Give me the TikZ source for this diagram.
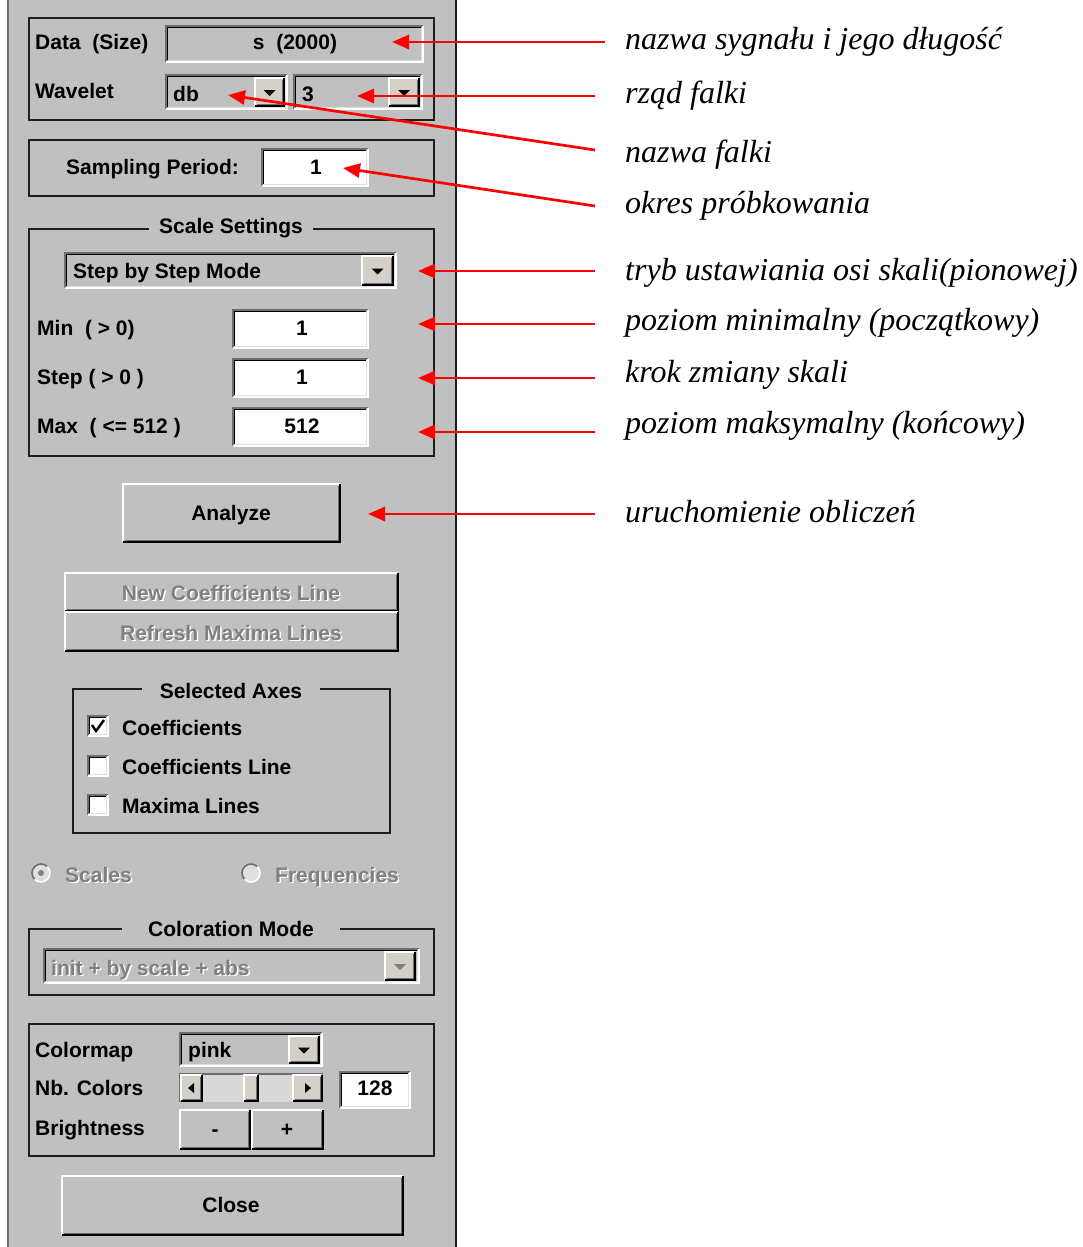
\documentclass[tikz,border=0pt]{standalone}
\usepackage{fontspec}
\newfontfamily\guifont{Liberation Sans}
\newfontfamily\notefont{Liberation Serif}
\usetikzlibrary{arrows.meta}

\definecolor{guibg}{RGB}{192,192,192}
\definecolor{guiface}{RGB}{212,208,200}
\definecolor{guidark}{RGB}{110,110,110}
\definecolor{guilight}{RGB}{223,223,223}
\definecolor{guiframe}{RGB}{30,30,30}
\definecolor{guigray}{RGB}{128,128,128}
\definecolor{guitrough}{RGB}{216,216,216}
\definecolor{notered}{RGB}{255,0,0}

\tikzset{
  guitext/.style={font=\guifont\bfseries\fontsize{21}{24}\selectfont, inner sep=0pt, text=black},
  guidim/.style={guitext, text=guigray},
  guiemboss/.style={guitext, text=white},
  frameline/.style={draw=guiframe, line width=1.8pt},
  frametitle/.style={guitext, fill=guibg, inner xsep=#1, inner ysep=3pt, anchor=base},
  note/.style={font=\notefont\itshape\fontsize{32}{38}\selectfont, inner sep=0pt, anchor=base west},
  pointer/.style={draw=notered, line width=2.7pt, -{Triangle[length=17pt,width=14pt]}},
}

% sunken 3D box: x1, y1, x2, y2, fill
\newcommand\guisunken[5]{%
  \fill[#5] (#1,#2) rectangle (#3,#4);
  \draw[guidark,line width=1.6pt] (#1,#4) -- (#1,#2) -- (#3,#2);
  \draw[white,line width=1.6pt] (#1,#4) -- (#3,#4) -- (#3,#2);
  \draw[black,line width=1.3pt] (#1+1.6,#4-1.6) -- (#1+1.6,#2+1.6) -- (#3-1.6,#2+1.6);
  \draw[guilight,line width=1.3pt] (#1+1.6,#4-1.6) -- (#3-1.6,#4-1.6) -- (#3-1.6,#2+1.6);
}
% raised 3D box: x1, y1, x2, y2, fill
\newcommand\guiraised[5]{%
  \fill[#5] (#1,#2) rectangle (#3,#4);
  \draw[white,line width=1.6pt] (#1,#4) -- (#1,#2) -- (#3,#2);
  \draw[black,line width=1.8pt] (#1,#4) -- (#3,#4) -- (#3,#2);
  \draw[guidark,line width=1.3pt] (#1+1.8,#4-1.8) -- (#3-1.8,#4-1.8) -- (#3-1.8,#2+1.8);
}
% drop-down button with its triangle: x1, y1, x2, y2, triangle colour
\newcommand\guidrop[5]{%
  \guiraised{#1}{#2}{#3}{#4}{guiface}
  \fill[#5] ({(#1+#3)/2-6},{(#2+#4)/2-2}) -- ({(#1+#3)/2+6},{(#2+#4)/2-2})
            -- ({(#1+#3)/2},{(#2+#4)/2+4}) -- cycle;
}

\begin{document}
\begin{tikzpicture}[x=1pt,y=-1pt]
\useasboundingbox (0,0) rectangle (1082,1247);
\fill[white] (0,0) rectangle (1082,1247);

% dialog panel
\fill[guibg] (8,0) rectangle (456,1247);
\draw[guidark, line width=2pt] (8,0) -- (8,1247);
\draw[guiframe, line width=2pt] (456,0) -- (456,1247);

% ---- data and wavelet group
\draw[frameline] (29,18) rectangle (434,120);
\node[guitext, anchor=base west] (datalbl) at (35,50) {Data\ \ (Size)};
\guisunken{166}{26}{423}{62}{guibg}
\node[guitext, anchor=base] (dataval) at (295,50) {s\ \ (2000)};
\node[guitext, anchor=base west] (wavlbl) at (35,99) {Wavelet};
\guisunken{166}{75}{287}{109}{guibg}
\guidrop{255}{78}{284}{106}{black}
\node[guitext, anchor=base west] (wavname) at (173,101) {db};
\guisunken{294}{75}{422}{109}{guibg}
\guidrop{389}{78}{419}{106}{black}
\node[guitext, anchor=base west] (wavorder) at (302,101) {3};

% ---- sampling period
\draw[frameline] (29,140) rectangle (434,196);
\node[guitext, anchor=base west] (samplbl) at (66,174) {Sampling Period:};
\guisunken{262}{149}{368}{186}{white}
\node[guitext, anchor=base] (sampval) at (316,174) {1};

% ---- scale settings
\draw[frameline] (29,229) rectangle (434,456);
\node[frametitle=10pt] (scaletitle) at (231,233) {Scale Settings};
\guisunken{65}{253}{396}{288}{guibg}
\guidrop{362}{256}{393}{285}{black}
\node[guitext, anchor=base west] (modeval) at (73,278) {Step by Step Mode};
\node[guitext, anchor=base west] (minlbl) at (37,335) {Min\ \ ( > 0)};
\guisunken{233}{310}{368}{348}{white}
\node[guitext, anchor=base] (minval) at (302,335) {1};
\node[guitext, anchor=base west] (steplbl) at (37,384) {Step ( > 0 )};
\guisunken{233}{359}{368}{397}{white}
\node[guitext, anchor=base] (stepval) at (302,384) {1};
\node[guitext, anchor=base west] (maxlbl) at (37,433) {Max\ \ ( <= 512 )};
\guisunken{233}{408}{368}{446}{white}
\node[guitext, anchor=base] (maxval) at (302,433) {512};

% ---- analyze button
\guiraised{123}{484}{340}{542}{guibg}
\node[guitext, anchor=base] (analyze) at (231,520) {Analyze};

% ---- disabled line buttons
\guiraised{65}{573}{398}{611}{guibg}
\guiraised{65}{612}{398}{651}{guibg}
\node[guiemboss, anchor=base] (newcoefsh) at (232.5,601.5) {New Coefficients Line};
\node[guidim, anchor=base] (newcoef) at (231,600) {New Coefficients Line};
\node[guiemboss, anchor=base] (refreshsh) at (232.5,641.5) {Refresh Maxima Lines};
\node[guidim, anchor=base] (refresh) at (231,640) {Refresh Maxima Lines};

% ---- selected axes
\draw[frameline] (73,689) rectangle (390,833);
\node[frametitle=18pt] (axestitle) at (231,698) {Selected Axes};
\guisunken{88}{716}{108}{736}{white}
\draw[black, line width=2.4pt] (92,725) -- (96,731) -- (104,720);
\node[guitext, anchor=base west] (chk1) at (122,735) {Coefficients};
\guisunken{88}{756}{108}{776}{white}
\node[guitext, anchor=base west] (chk2) at (122,774) {Coefficients Line};
\guisunken{88}{795}{108}{815}{white}
\node[guitext, anchor=base west] (chk3) at (122,813) {Maxima Lines};

% ---- disabled radio buttons
\fill[guilight] (41,873) circle (9);
\draw[guidark, line width=1.6pt] (41,873) ++(135:9) arc[start angle=135, end angle=315, radius=9];
\draw[white, line width=1.6pt] (41,873) ++(315:9) arc[start angle=315, end angle=495, radius=9];
\fill[guigray] (41,873) circle (3);
\node[guiemboss, anchor=base west] (scalessh) at (66.5,883.5) {Scales};
\node[guidim, anchor=base west] (scales) at (65,882) {Scales};
\fill[guilight] (251,873) circle (9);
\draw[guidark, line width=1.6pt] (251,873) ++(135:9) arc[start angle=135, end angle=315, radius=9];
\draw[white, line width=1.6pt] (251,873) ++(315:9) arc[start angle=315, end angle=495, radius=9];
\node[guiemboss, anchor=base west] (freqsh) at (276.5,883.5) {Frequencies};
\node[guidim, anchor=base west] (freq) at (275,882) {Frequencies};

% ---- coloration mode
\draw[frameline] (29,929) rectangle (434,995);
\node[frametitle=26pt] (colortitle) at (231,936) {Coloration Mode};
\guisunken{44}{949}{419}{983}{guibg}
\guidrop{385}{952}{415}{980}{guigray}
\node[guiemboss, anchor=base west] (colmodesh) at (52.5,976.5) {init + by scale + abs};
\node[guidim, anchor=base west] (colmode) at (51,975) {init + by scale + abs};

% ---- colormap controls
\draw[frameline] (29,1024) rectangle (434,1156);
\node[guitext, anchor=base west] (cmaplbl) at (35,1057) {Colormap};
\guisunken{180}{1033}{322}{1066}{guibg}
\guidrop{289}{1036}{319}{1063}{black}
\node[guitext, anchor=base west] (cmapval) at (188,1057) {pink};
\node[guitext, anchor=base west] (nblbl) at (35,1095) {Nb. Colors};
\fill[guitrough] (180,1074) rectangle (323,1102);
\draw[guidark, line width=1.4pt] (180,1102) -- (180,1074) -- (323,1074);
\guiraised{181}{1075}{202}{1101}{guiface}
\fill[black] (188,1088) -- (194,1083) -- (194,1093) -- cycle;
\guiraised{244}{1075}{258}{1101}{guiface}
\guiraised{293}{1075}{322}{1101}{guiface}
\fill[black] (311,1088) -- (305,1083) -- (305,1093) -- cycle;
\guisunken{340}{1072}{410}{1108}{white}
\node[guitext, anchor=base] (nbval) at (375,1095) {128};
\node[guitext, anchor=base west] (brightlbl) at (35,1135) {Brightness};
\guiraised{180}{1110}{250}{1149}{guibg}
\guiraised{252}{1110}{323}{1149}{guibg}
\node[guitext, anchor=base] (minus) at (215,1136) {-};
\node[guitext, anchor=base] (plus) at (287,1136) {+};

% ---- close button
\guiraised{62}{1176}{403}{1235}{guibg}
\node[guitext, anchor=base] (close) at (231,1212) {Close};

% ---- annotations
\node[note] (n1) at (625,50) {nazwa sygnału i jego długość};
\node[note] (n2) at (625,103) {rząd falki};
\node[note] (n3) at (625,162) {nazwa falki};
\node[note] (n4) at (625,213) {okres próbkowania};
\node[note] (n5) at (625,280) {tryb ustawiania osi skali(pionowej)};
\node[note] (n6) at (625,330) {poziom minimalny (początkowy)};
\node[note] (n7) at (625,382) {krok zmiany skali};
\node[note] (n8) at (625,433) {poziom maksymalny (końcowy)};
\node[note] (n9) at (625,522) {uruchomienie obliczeń};

\coordinate (s1) at (605,42);  \coordinate (t1) at (392,42);
\coordinate (s2) at (595,96);  \coordinate (t2) at (357,96);
\coordinate (s3) at (595,150); \coordinate (t3) at (228,95);
\coordinate (s4) at (595,206); \coordinate (t4) at (343,168);
\coordinate (s5) at (595,271); \coordinate (t5) at (418,271);
\coordinate (s6) at (595,324); \coordinate (t6) at (418,324);
\coordinate (s7) at (595,378); \coordinate (t7) at (418,378);
\coordinate (s8) at (595,432); \coordinate (t8) at (418,432);
\coordinate (s9) at (595,514); \coordinate (t9) at (368,514);

\foreach \k in {1,...,9} {
  \draw[pointer] (s\k) -- (t\k);
}
\end{tikzpicture}
\end{document}
